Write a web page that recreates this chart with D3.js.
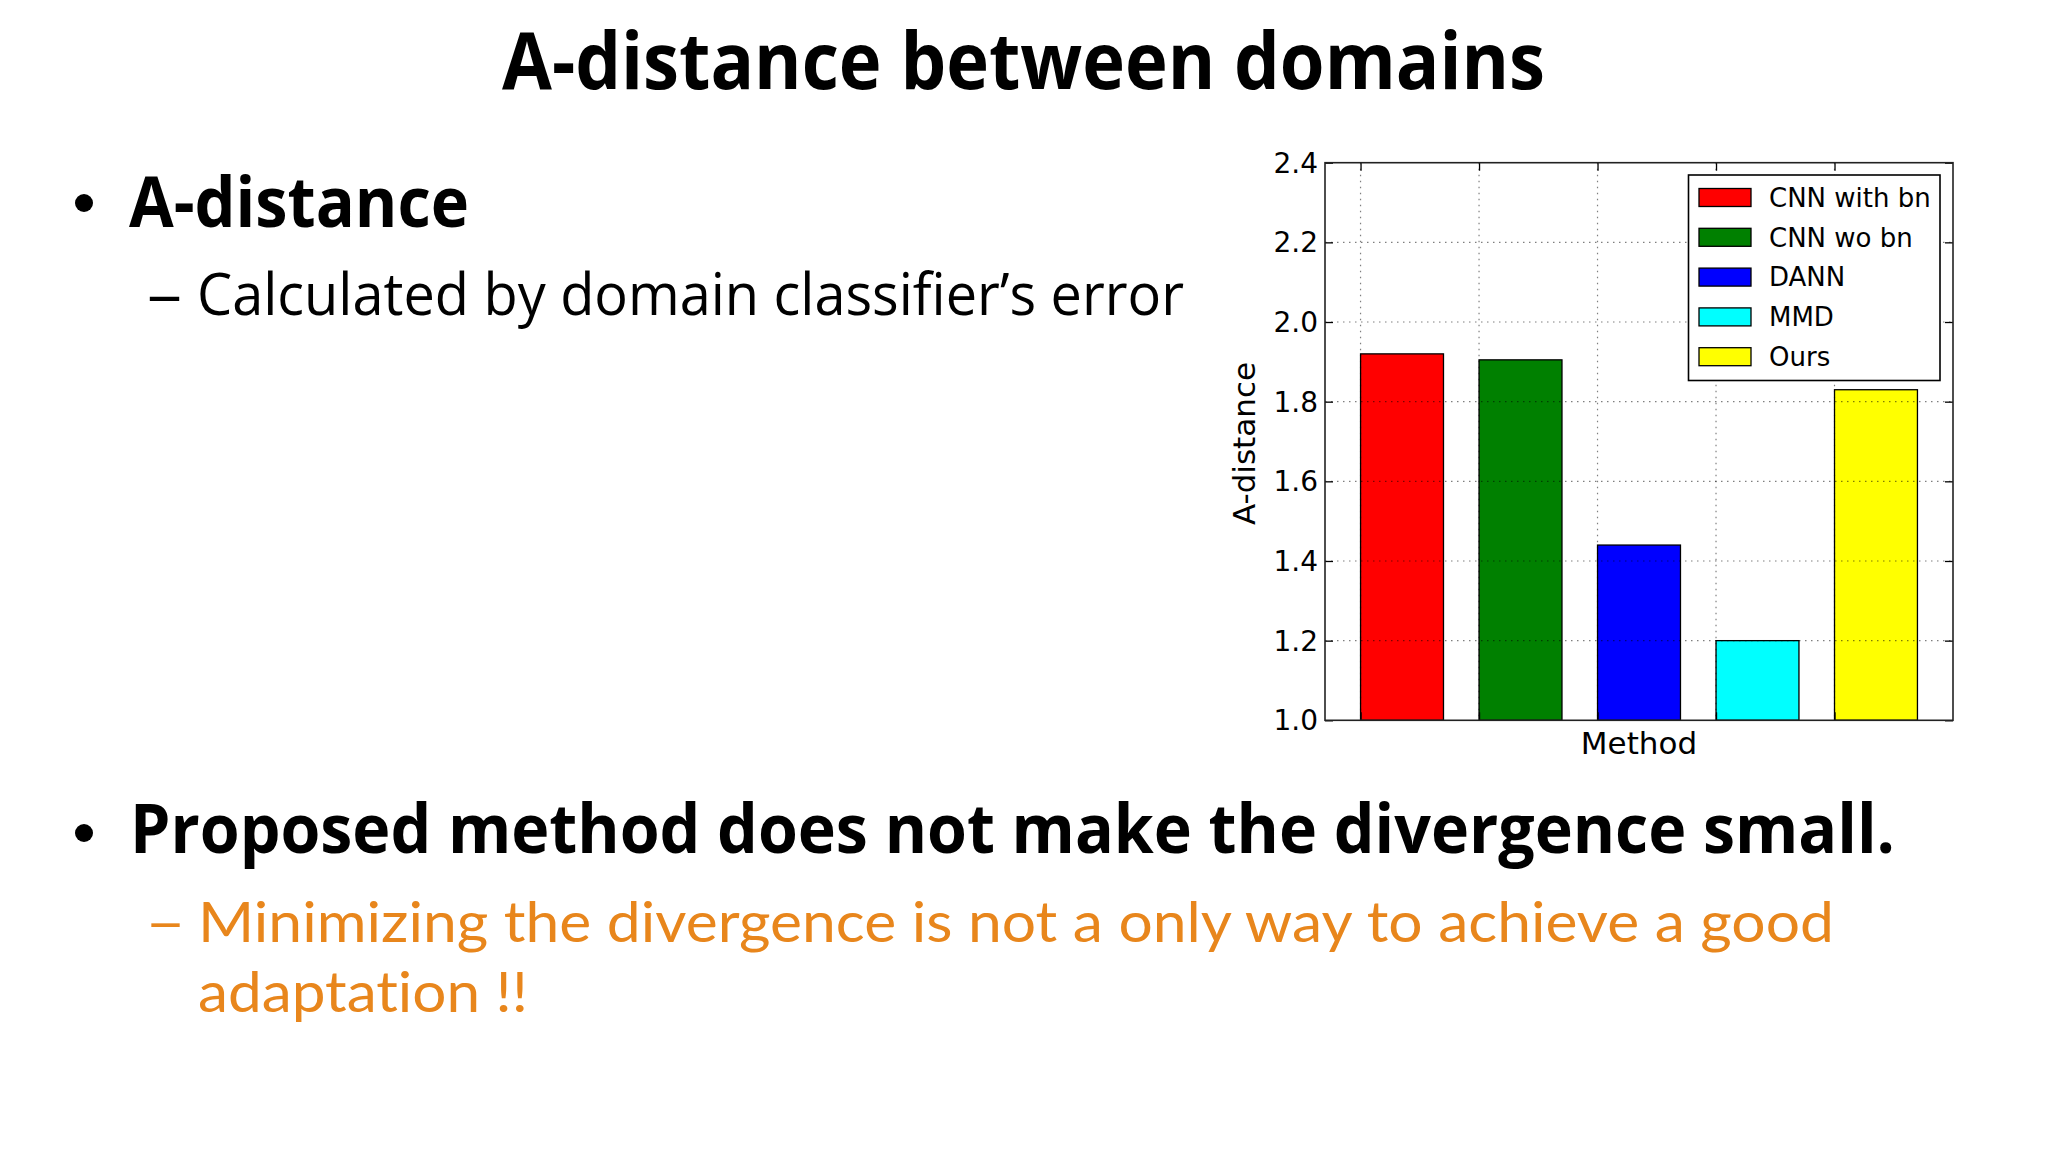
<!DOCTYPE html>
<html>
<head>
<meta charset="utf-8">
<script src="https://cdn.jsdelivr.net/npm/d3@7"></script>
<style>
  html, body { margin: 0; padding: 0; background: #ffffff; }
  svg { display: block; }
  text { font-variant-ligatures: none; font-feature-settings: "liga" 0, "clig" 0; }
</style>
</head>
<body>
<svg id="slide" width="2048" height="1152"></svg>
<script>
// ---- data ----
const categories = ["CNN with bn", "CNN wo bn", "DANN", "MMD", "Ours"];
const values = [1.92, 1.905, 1.44, 1.20, 1.83];
const barColors = ["#ff0000", "#008000", "#0000ff", "#00ffff", "#ffff00"];
const yTicks = [1.0, 1.2, 1.4, 1.6, 1.8, 2.0, 2.2, 2.4];
const xTicks = [0, 1, 2, 3, 4];
const yLabel = "A-distance";
const xLabel = "Method";

const svg = d3.select("#slide");
svg.append("rect").attr("width", 2048).attr("height", 1152).attr("fill", "#ffffff");

// ---- slide text ----
const slideFont = "'Open Sans', 'Noto Sans', sans-serif";
function slideText(txt, x, y, size, weight, color, width, font) {
  const t = svg.append("text")
    .attr("x", x).attr("y", y)
    .attr("font-family", font || slideFont)
    .attr("font-size", size)
    .attr("font-weight", weight)
    .attr("fill", color)
    .text(txt);
  if (width) t.attr("textLength", width).attr("lengthAdjust", "spacingAndGlyphs");
  return t;
}
const orange = "#e8861c";
slideText("A-distance between domains", 502, 89, 78, 700, "#000", 1043);
svg.append("circle").attr("cx", 84).attr("cy", 203).attr("r", 9).attr("fill", "#000");
slideText("A-distance", 129, 227, 69, 700, "#000", 340);
slideText("–", 147, 315, 59, 400, "#000", 35);
slideText("Calculated by domain classifier’s error", 197, 315, 59, 400, "#000", 987);
svg.append("circle").attr("cx", 84).attr("cy", 833).attr("r", 9).attr("fill", "#000");
slideText("Proposed method does not make the divergence small.", 130, 853, 68, 700, "#000", 1765);

// orange sub-bullet (font with a tighter line box so the two lines do not collide)
const paraFont = "Lato, 'Open Sans', sans-serif";
slideText("–", 145, 942, 57, 400, orange, 41, paraFont);
slideText("Minimizing the divergence is not a only way to achieve a good", 198, 942, 57, 400, orange, 1636, paraFont);
slideText("adaptation !!", 198, 1012, 57, 400, orange, 330, paraFont);

// ---- chart ----
const chartFont = "'DejaVu Sans', sans-serif";
const L = 1325, R = 1953, T = 162.7, B = 720.3;
const x = d3.scaleLinear().domain([-0.3, 5.0]).range([L, R]);
const y = d3.scaleLinear().domain([1.0, 2.4]).range([B, T]);
const barW = 0.7;

const g = svg.append("g");

// bars
g.selectAll("rect.bar").data(values).join("rect")
  .attr("class", "bar")
  .attr("x", (d, i) => x(i))
  .attr("y", d => y(d))
  .attr("width", (d, i) => x(i + barW) - x(i))
  .attr("height", d => y(1.0) - y(d))
  .attr("fill", (d, i) => barColors[i])
  .attr("stroke", "#000")
  .attr("stroke-width", 1.3);

// grid (drawn over bars)
const grid = g.append("g").attr("stroke", "#000").attr("stroke-opacity", 0.5)
  .attr("stroke-width", 1.2).attr("stroke-dasharray", "1.5,4.5");
grid.selectAll("line.h").data(yTicks.slice(1, -1)).join("line")
  .attr("x1", L).attr("x2", R).attr("y1", d => y(d)).attr("y2", d => y(d));
grid.selectAll("line.v").data(xTicks).join("line")
  .attr("class", "v")
  .attr("y1", T).attr("y2", B).attr("x1", d => x(d)).attr("x2", d => x(d));

// axes with inward ticks
const tickLen = 8;
const axL = g.append("g").attr("transform", `translate(${L},0)`)
  .call(d3.axisLeft(y).tickValues(yTicks).tickFormat(d3.format(".1f")).tickSizeInner(-tickLen).tickSizeOuter(0).tickPadding(15));
const axR = g.append("g").attr("transform", `translate(${R},0)`)
  .call(d3.axisRight(y).tickValues(yTicks).tickFormat("").tickSizeInner(-tickLen).tickSizeOuter(0));
const axT = g.append("g").attr("transform", `translate(0,${T})`)
  .call(d3.axisTop(x).tickValues(xTicks).tickFormat("").tickSizeInner(-tickLen).tickSizeOuter(0));
const axB = g.append("g").attr("transform", `translate(0,${B})`)
  .call(d3.axisBottom(x).tickValues(xTicks).tickFormat("").tickSizeInner(-tickLen).tickSizeOuter(0));
[axL, axR, axT, axB].forEach(a => {
  a.select(".domain").remove();
  a.selectAll(".tick line").attr("stroke", "#000").attr("stroke-width", 1.3);
});
axL.selectAll(".tick text")
  .attr("font-family", chartFont).attr("font-size", 28).attr("fill", "#000")
  .attr("x", -7).attr("dy", "0.34em");

// frame
g.append("rect").attr("x", L).attr("y", T).attr("width", R - L).attr("height", B - T)
  .attr("fill", "none").attr("stroke", "#222").attr("stroke-width", 1.6);

// axis labels
g.append("text").attr("x", (L + R) / 2).attr("y", 754)
  .attr("text-anchor", "middle").attr("font-family", chartFont).attr("font-size", 31)
  .attr("fill", "#000").text(xLabel);
g.append("text").attr("transform", `translate(1255,${(T + B) / 2 + 2}) rotate(-90)`)
  .attr("text-anchor", "middle").attr("font-family", chartFont).attr("font-size", 31)
  .attr("fill", "#000").text(yLabel);

// legend
const lg = g.append("g");
lg.append("rect").attr("x", 1688.5).attr("y", 175).attr("width", 251.5).attr("height", 205.5)
  .attr("fill", "#fff").attr("stroke", "#000").attr("stroke-width", 1.6);
const rowY = i => 197.5 + i * 39.8;
lg.selectAll("rect.patch").data(categories).join("rect")
  .attr("class", "patch")
  .attr("x", 1699).attr("y", (d, i) => rowY(i) - 9)
  .attr("width", 52).attr("height", 18)
  .attr("fill", (d, i) => barColors[i]).attr("stroke", "#000").attr("stroke-width", 1.3);
lg.selectAll("text").data(categories).join("text")
  .attr("x", 1769).attr("y", (d, i) => rowY(i)).attr("dy", "0.36em")
  .attr("font-family", chartFont).attr("font-size", 26).attr("fill", "#000")
  .text(d => d);
</script>
</body>
</html>
